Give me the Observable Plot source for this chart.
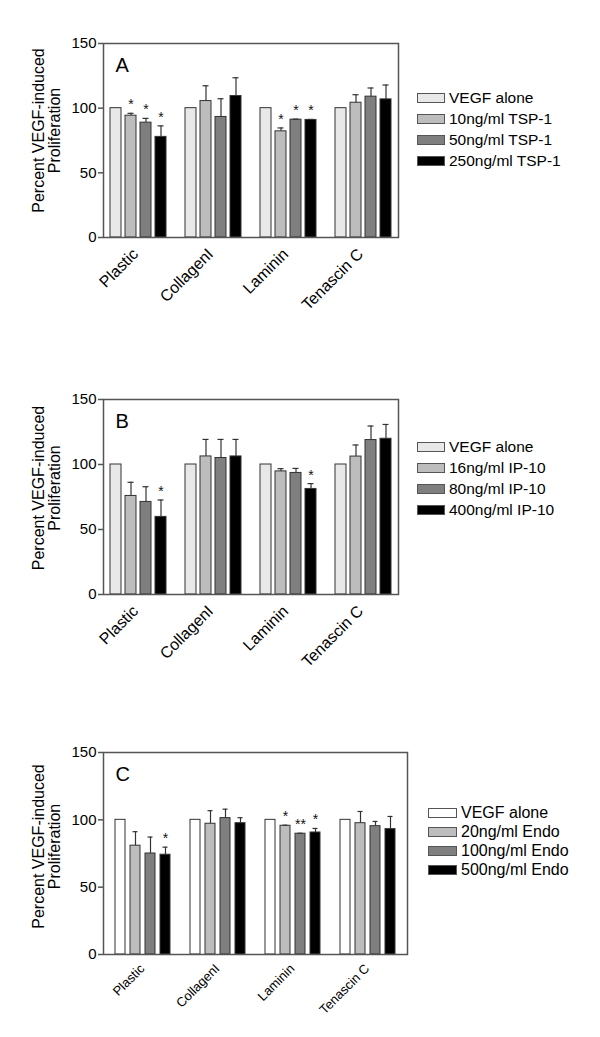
<!DOCTYPE html>
<html><head><meta charset="utf-8">
<script src="https://cdn.jsdelivr.net/npm/d3@7"></script>
<script src="https://cdn.jsdelivr.net/npm/@observablehq/plot@0.6"></script>
<style>
body{margin:0;background:#fff;font-family:"Liberation Sans",Arial,sans-serif}
#root{position:relative;width:600px;height:1037px;overflow:hidden}
.panel{position:absolute;left:0;width:600px}
.panel svg{display:block}
.legend{position:absolute;color:#000;font-family:"Liberation Sans",Arial,sans-serif}
.legend .row{position:absolute;left:0;display:flex;align-items:center;white-space:nowrap;transform:translateY(-50%)}
.legend .sw{box-sizing:border-box;border:1px solid #555;height:10px;margin-right:4px}
</style></head><body><div id="root"></div>
<script>
const groups = ["Plastic", "CollagenI", "Laminin", "Tenascin C"];

// Panel A (TSP-1)
const seriesA = ["VEGF alone", "10ng/ml TSP-1", "50ng/ml TSP-1", "250ng/ml TSP-1"];
const colorsA = ["#e8e8e8", "#bdbdbd", "#7f7f7f", "#000000"];
const valuesA = [[100, 94.2, 88.8, 77.8], [100, 105.5, 93.2, 109.4], [100, 82.1, 91.1, 90.9], [100, 104.2, 108.9, 106.8]];
const errorsA = [[0, 1.8, 3.3, 8.5], [0, 11.8, 14.1, 14.1], [0, 2.6, 0.4, 0.4], [0, 6.2, 6.7, 11.1]];
const starsA = [["", "*", "*", "*"], ["", "", "", ""], ["", "*", "*", "*"], ["", "", "", ""]];

// Panel B (IP-10)
const seriesB = ["VEGF alone", "16ng/ml IP-10", "80ng/ml IP-10", "400ng/ml IP-10"];
const colorsB = ["#e8e8e8", "#bdbdbd", "#7f7f7f", "#000000"];
const valuesB = [[100, 75.8, 71.2, 59.7], [100, 106.2, 105.0, 106.2], [100, 94.7, 93.5, 81.2], [100, 106.1, 118.8, 119.8]];
const errorsB = [[0, 10.5, 11.7, 13.0], [0, 13.1, 14.3, 13.1], [0, 2.1, 3.5, 4.1], [0, 8.9, 10.8, 11.0]];
const starsB = [["", "", "", "*"], ["", "", "", ""], ["", "", "", "*"], ["", "", "", ""]];

// Panel C (Endostatin)
const seriesC = ["VEGF alone", "20ng/ml Endo", "100ng/ml Endo", "500ng/ml Endo"];
const colorsC = ["#ffffff", "#bdbdbd", "#7f7f7f", "#000000"];
const valuesC = [[100, 80.8, 75.0, 74.1], [100, 97.1, 101.3, 97.5], [100, 95.6, 89.7, 90.6], [100, 97.5, 95.3, 93.1]];
const errorsC = [[0, 10.4, 12.2, 5.6], [0, 9.7, 6.6, 4.1], [0, 0.4, 0.3, 3.0], [0, 8.7, 3.5, 9.4]];
const starsC = [["", "", "", "*"], ["", "", "", ""], ["", "*", "**", "*"], ["", "", "", ""]];

const yTicks = [0, 50, 100, 150];
const yLabel = "Percent VEGF-induced\nProliferation";

const root = document.getElementById("root");
const FONT = "Liberation Sans, Arial, sans-serif";

function panel(cfg) {
  const {letter, series, colors, values, errors, stars, top, height, marginTop, marginBottom, marginRight,
         padIn, xFont, xDy, xShift, labelDy, legend} = cfg;
  const rows = [];
  groups.forEach((g, gi) => series.forEach((s, si) => rows.push({
    group: g, series: s, key: g + "|" + si, value: values[gi][si], err: errors[gi][si], star: stars[gi][si]
  })));
  const domain = [];
  groups.forEach((g, gi) => {
    series.forEach((s, si) => domain.push(g + "|" + si));
    if (gi < groups.length - 1) domain.push("gap" + gi);
  });
  const marginLeft = 103;
  const step = d3.scaleBand().domain(domain).range([marginLeft, 600 - marginRight])
    .paddingInner(padIn).paddingOuter(0.4).step();
  const withErr = rows.filter(d => d.err > 0);
  const plot = Plot.plot({
    width: 600, height, marginTop, marginBottom, marginLeft, marginRight,
    style: {fontFamily: FONT, fontSize: "15px", color: "#000", background: "transparent", overflow: "visible"},
    x: {type: "band", domain, paddingInner: padIn, paddingOuter: 0.4, axis: null},
    y: {domain: [0, 150], axis: null},
    color: {domain: series, range: colors},
    marks: [
      Plot.barY(rows, {x: "key", y: "value", fill: "series", stroke: "#333", strokeWidth: 1}),
      Plot.ruleX(withErr, {x: "key", y1: "value", y2: d => d.value + d.err, stroke: "#333", strokeWidth: 1.2}),
      Plot.tickY(withErr, {x: "key", y: d => d.value + d.err, stroke: "#333", strokeWidth: 1.2, insetLeft: 2.5, insetRight: 2.5}),
      Plot.text(rows.filter(d => d.star), {x: "key", y: d => d.value + d.err, text: "star", lineAnchor: "bottom", dy: -4, fontSize: 14, fill: "#111"}),
      Plot.frame({stroke: "#555", strokeWidth: 1.5}),
      Plot.axisY({ticks: yTicks, tickSize: 5, tickPadding: 2, stroke: "#555", strokeWidth: 1.5, label: null, fontSize: 15, fill: "#000"}),
      Plot.text(groups, {x: g => g + "|1", frameAnchor: "bottom", text: d => d, dx: step / 2 + xShift, dy: xDy,
        rotate: -45, textAnchor: "end", lineAnchor: "middle", fontSize: xFont, fill: "#000"}),
      Plot.text([yLabel], {frameAnchor: "left", text: d => d, rotate: -90, dx: -57, dy: labelDy,
        textAnchor: "middle", lineAnchor: "middle", lineHeight: 1.0, fontSize: 16, fill: "#000"}),
      Plot.text([letter], {frameAnchor: "top-left", text: d => d, dx: 12, dy: 22, textAnchor: "start",
        lineAnchor: "middle", fontSize: 20, fill: "#000"})
    ]
  });
  const div = document.createElement("div");
  div.className = "panel";
  div.style.top = top + "px";
  div.style.height = height + "px";
  div.appendChild(plot);
  root.appendChild(div);

  const lg = document.createElement("div");
  lg.className = "legend";
  lg.style.left = legend.left + "px";
  lg.style.top = legend.top + "px";
  lg.style.fontSize = legend.font + "px";
  series.forEach((s, i) => {
    const r = document.createElement("div");
    r.className = "row";
    r.style.top = (i * legend.step) + "px";
    const sw = document.createElement("span");
    sw.className = "sw";
    sw.style.width = legend.sw + "px";
    sw.style.background = colors[i];
    const t = document.createElement("span");
    t.textContent = s;
    r.appendChild(sw);
    r.appendChild(t);
    lg.appendChild(r);
  });
  root.appendChild(lg);
}

panel({letter: "A", series: seriesA, colors: colorsA, values: valuesA, errors: errorsA, stars: starsA,
  top: 0, height: 330, marginTop: 43, marginBottom: 93, marginRight: 202, padIn: 0.3, xFont: 16, xDy: 14, xShift: -3, labelDy: -10,
  legend: {left: 417, top: 98, step: 21, font: 15.5, sw: 28}});
panel({letter: "B", series: seriesB, colors: colorsB, values: valuesB, errors: errorsB, stars: starsB,
  top: 355, height: 330, marginTop: 44, marginBottom: 91, marginRight: 202, padIn: 0.3, xFont: 16, xDy: 14, xShift: -3, labelDy: -9,
  legend: {left: 417, top: 447, step: 21, font: 15.5, sw: 28}});
panel({letter: "C", series: seriesC, colors: colorsC, values: valuesC, errors: errorsC, stars: starsC,
  top: 710, height: 327, marginTop: 42, marginBottom: 83, marginRight: 193, padIn: 0.33, xFont: 13, xDy: 12, xShift: -1, labelDy: -7,
  legend: {left: 428, top: 813, step: 19, font: 16, sw: 29}});
</script>
</body></html>
